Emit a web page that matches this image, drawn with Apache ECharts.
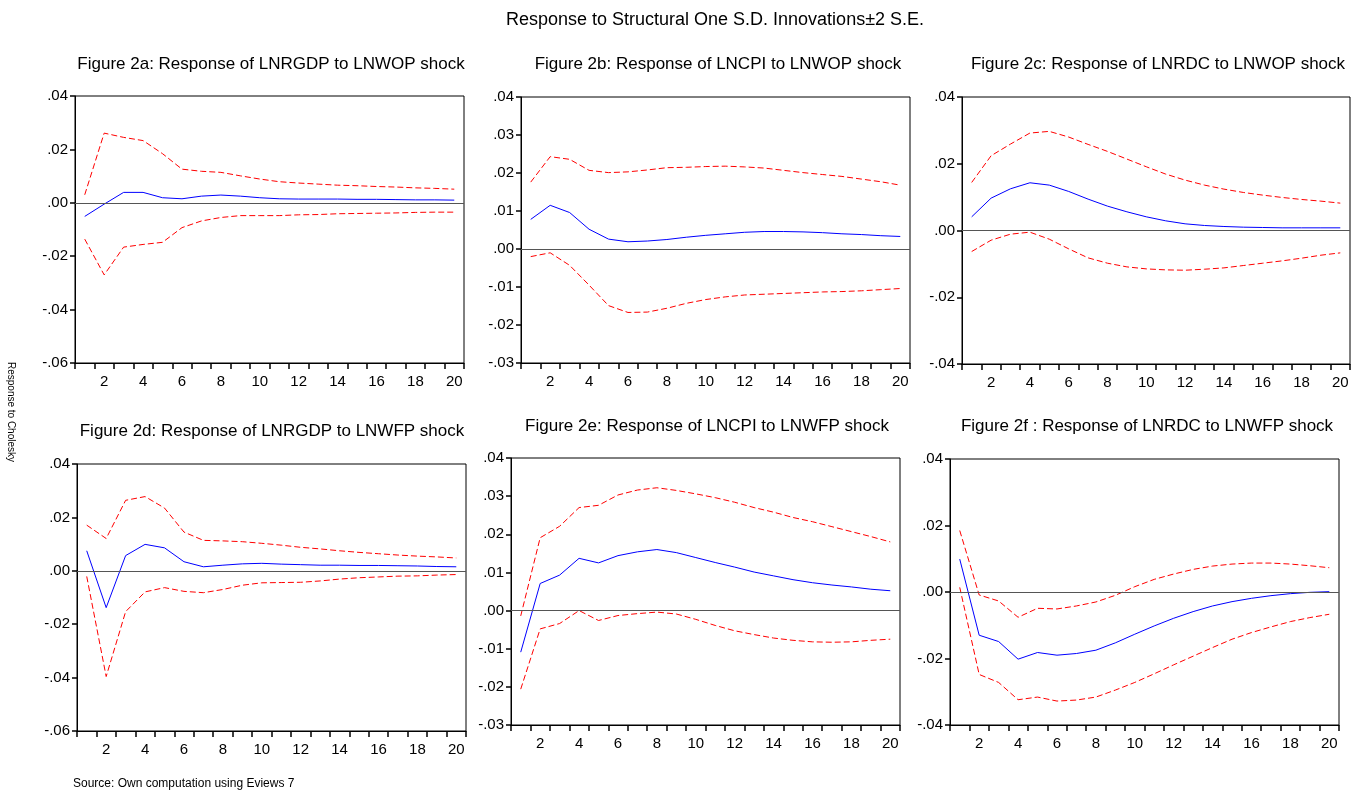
<!DOCTYPE html>
<html>
<head>
<meta charset="utf-8">
<script src="https://cdn.jsdelivr.net/npm/echarts@6/dist/echarts.min.js"></script>
<style>
html,body{margin:0;padding:0;background:#fff;}
#chart{width:1358px;height:791px;}
</style>
</head>
<body>
<div id="chart"></div>
<script>
// ---- data ----
var periods = ['1','2','3','4','5','6','7','8','9','10','11','12','13','14','15','16','17','18','19','20'];

var mainTitle = 'Response to Structural One S.D. Innovations\u00b12 S.E.';
var panelTitles = [
  'Figure 2a: Response of LNRGDP to LNWOP shock',
  'Figure 2b: Response of LNCPI to LNWOP shock',
  'Figure 2c: Response of LNRDC to LNWOP shock',
  'Figure 2d: Response of LNRGDP to LNWFP shock',
  'Figure 2e: Response of LNCPI to LNWFP shock',
  'Figure 2f : Response of LNRDC to LNWFP shock'
];
var sourceNote = 'Source: Own computation using Eviews 7';
var sideNote = 'Response to Cholesky';

// y-axis ranges [min, max, interval] per panel
var yMinA = -0.06, yMaxA = 0.04, yStepA = 0.02;
var yMinB = -0.03, yMaxB = 0.04, yStepB = 0.01;
var yMinC = -0.04, yMaxC = 0.04, yStepC = 0.02;

// Panel 2a: LNRGDP to LNWOP
var respA  = [-0.0051,-0.0005,0.0039,0.0039,0.0019,0.0015,0.0025,0.0029,0.0025,0.0019,0.0015,0.0014,0.0014,0.0014,0.0013,0.0013,0.0012,0.0011,0.0011,0.0010];
var upperA = [0.0030,0.0261,0.0245,0.0233,0.0184,0.0126,0.0118,0.0114,0.0101,0.0089,0.0079,0.0074,0.0070,0.0066,0.0064,0.0061,0.0059,0.0056,0.0054,0.0051];
var lowerA = [-0.0136,-0.0270,-0.0166,-0.0156,-0.0148,-0.0093,-0.0068,-0.0055,-0.0048,-0.0048,-0.0048,-0.0045,-0.0044,-0.0041,-0.0040,-0.0039,-0.0038,-0.0036,-0.0035,-0.0035];

// Panel 2b: LNCPI to LNWOP
var respB  = [0.0078,0.0115,0.0096,0.0052,0.0026,0.0019,0.0021,0.0025,0.0031,0.0036,0.0040,0.0044,0.0046,0.0046,0.0045,0.0043,0.0040,0.0038,0.0035,0.0033];
var upperB = [0.0176,0.0243,0.0236,0.0207,0.0201,0.0203,0.0208,0.0214,0.0215,0.0217,0.0218,0.0216,0.0213,0.0207,0.0201,0.0196,0.0191,0.0184,0.0177,0.0168];
var lowerB = [-0.0020,-0.0010,-0.0043,-0.0095,-0.0149,-0.0167,-0.0166,-0.0156,-0.0143,-0.0133,-0.0126,-0.0121,-0.0119,-0.0117,-0.0115,-0.0113,-0.0112,-0.0110,-0.0107,-0.0104];

// Panel 2c: LNRDC to LNWOP
var respC  = [0.0041,0.0097,0.0125,0.0143,0.0136,0.0117,0.0094,0.0073,0.0056,0.0041,0.0029,0.0020,0.0015,0.0012,0.0010,0.0009,0.0008,0.0008,0.0008,0.0008];
var upperC = [0.0144,0.0224,0.0259,0.0292,0.0297,0.0280,0.0258,0.0237,0.0214,0.0191,0.0169,0.0151,0.0136,0.0124,0.0114,0.0106,0.0099,0.0093,0.0088,0.0082];
var lowerC = [-0.0063,-0.0029,-0.0011,-0.0005,-0.0026,-0.0055,-0.0082,-0.0098,-0.0109,-0.0115,-0.0118,-0.0119,-0.0116,-0.0112,-0.0105,-0.0098,-0.0091,-0.0083,-0.0074,-0.0067];

// Panel 2d: LNRGDP to LNWFP
var respD  = [0.0075,-0.0138,0.0057,0.0099,0.0086,0.0034,0.0015,0.0021,0.0026,0.0028,0.0025,0.0023,0.0021,0.0021,0.0020,0.0020,0.0019,0.0018,0.0016,0.0015];
var upperD = [0.0171,0.0121,0.0264,0.0278,0.0235,0.0145,0.0114,0.0112,0.0109,0.0103,0.0096,0.0088,0.0082,0.0075,0.0069,0.0064,0.0059,0.0055,0.0052,0.0048];
var lowerD = [-0.0021,-0.0396,-0.0153,-0.0079,-0.0063,-0.0077,-0.0082,-0.0070,-0.0054,-0.0045,-0.0044,-0.0043,-0.0038,-0.0031,-0.0026,-0.0023,-0.0020,-0.0019,-0.0016,-0.0014];

// Panel 2e: LNCPI to LNWFP
var respE  = [-0.0109,0.0071,0.0093,0.0137,0.0125,0.0144,0.0154,0.0160,0.0152,0.0139,0.0126,0.0114,0.0101,0.0091,0.0081,0.0073,0.0067,0.0062,0.0056,0.0052];
var upperE = [-0.0014,0.0191,0.0221,0.0270,0.0276,0.0303,0.0316,0.0322,0.0315,0.0306,0.0296,0.0284,0.0270,0.0258,0.0244,0.0233,0.0220,0.0207,0.0194,0.0180];
var lowerE = [-0.0206,-0.0048,-0.0034,0.0000,-0.0026,-0.0013,-0.0008,-0.0004,-0.0009,-0.0023,-0.0039,-0.0053,-0.0063,-0.0072,-0.0078,-0.0082,-0.0083,-0.0082,-0.0078,-0.0075];

// Panel 2f: LNRDC to LNWFP
var respF  = [0.0099,-0.0130,-0.0149,-0.0202,-0.0182,-0.0190,-0.0185,-0.0175,-0.0153,-0.0127,-0.0102,-0.0079,-0.0059,-0.0042,-0.0029,-0.0019,-0.0011,-0.0005,-0.0001,0.0001];
var upperF = [0.0185,-0.0009,-0.0027,-0.0076,-0.0049,-0.0051,-0.0042,-0.0030,-0.0010,0.0016,0.0038,0.0054,0.0068,0.0078,0.0084,0.0087,0.0087,0.0084,0.0079,0.0073];
var lowerF = [0.0014,-0.0248,-0.0272,-0.0324,-0.0316,-0.0328,-0.0325,-0.0316,-0.0295,-0.0272,-0.0246,-0.0219,-0.0193,-0.0167,-0.0142,-0.0122,-0.0105,-0.0089,-0.0077,-0.0067];

// ---- layout ----
var FONT = '"Liberation Sans", Arial, sans-serif';
var panels = [
  {grid:{left:75, top:96, width:389, height:267}, y:[yMinA,yMaxA,yStepA], s:[respA,upperA,lowerA], t:[271,64]},
  {grid:{left:521,top:97, width:389, height:266}, y:[yMinB,yMaxB,yStepB], s:[respB,upperB,lowerB], t:[718,64]},
  {grid:{left:962,top:97, width:388, height:267}, y:[yMinC,yMaxC,yStepC], s:[respC,upperC,lowerC], t:[1158,64]},
  {grid:{left:77, top:464,width:389, height:267}, y:[yMinA,yMaxA,yStepA], s:[respD,upperD,lowerD], t:[272,431]},
  {grid:{left:511,top:458,width:389, height:267}, y:[yMinB,yMaxB,yStepB], s:[respE,upperE,lowerE], t:[707,426]},
  {grid:{left:950,top:459,width:389, height:266}, y:[yMinC,yMaxC,yStepC], s:[respF,upperF,lowerF], t:[1147,426]}
];

function fmtY(v){
  var r = Math.round(v*100)/100;
  var s = r.toFixed(2);
  if (s === '-0.00') s = '0.00';
  return s.replace('0.', '.');
}

var grids = [], xAxes = [], yAxes = [], series = [], graphics = [];
panels.forEach(function(p, i){
  grids.push(Object.assign({show:true, borderColor:'#000', borderWidth:1, backgroundColor:'#fff'}, p.grid));
  xAxes.push({
    type:'category', gridIndex:i, data:periods, boundaryGap:true,
    axisLine:{show:true, onZero:false, lineStyle:{color:'#000', width:1}},
    axisTick:{show:true, interval:0, length:6, inside:false, lineStyle:{color:'#000', width:1.5}},
    axisLabel:{interval:function(idx){return idx % 2 === 1;}, color:'#000', fontSize:15, fontFamily:FONT, margin:11},
    splitLine:{show:false}
  });
  yAxes.push({
    type:'value', gridIndex:i, min:p.y[0], max:p.y[1], interval:p.y[2],
    axisLine:{show:true, onZero:false, lineStyle:{color:'#000', width:1}},
    axisTick:{show:true, length:5, lineStyle:{color:'#000', width:1.5}},
    axisLabel:{formatter:fmtY, color:'#000', fontSize:15, fontFamily:FONT, margin:7},
    splitLine:{show:false}
  });
  series.push({
    type:'line', xAxisIndex:i, yAxisIndex:i, data:p.s[0], symbol:'none', z:3,
    lineStyle:{color:'#0000ff', width:1}, silent:true,
    markLine:{silent:true, symbol:'none', label:{show:false}, lineStyle:{color:'#555', type:'solid', width:1.2}, data:[{yAxis:0}], animation:false}
  });
  series.push({
    type:'line', xAxisIndex:i, yAxisIndex:i, data:p.s[1], symbol:'none', z:2,
    lineStyle:{color:'#ff0000', width:1, type:[6,3]}, silent:true
  });
  series.push({
    type:'line', xAxisIndex:i, yAxisIndex:i, data:p.s[2], symbol:'none', z:2,
    lineStyle:{color:'#ff0000', width:1, type:[6,3]}, silent:true
  });
  graphics.push({
    type:'text', x:p.t[0], y:p.t[1],
    style:{text:panelTitles[i], fill:'#000', font:'17px ' + FONT, textAlign:'center', textVerticalAlign:'middle'}
  });
});

graphics.push({type:'text', x:715, y:20, style:{text:mainTitle, fill:'#000', font:'18px ' + FONT, textAlign:'center', textVerticalAlign:'middle'}});
graphics.push({type:'text', x:73, y:784, style:{text:sourceNote, fill:'#000', font:'12px ' + FONT, textAlign:'left', textVerticalAlign:'middle'}});
graphics.push({type:'text', x:11, y:412, rotation:-Math.PI/2, style:{text:sideNote, fill:'#000', font:'10px ' + FONT, textAlign:'center', textVerticalAlign:'middle'}});

var chart = echarts.init(document.getElementById('chart'), null, {renderer:'canvas'});
chart.setOption({
  backgroundColor:'#fff',
  animation:false,
  grid:grids, xAxis:xAxes, yAxis:yAxes, series:series, graphic:graphics
});
</script>
</body>
</html>
